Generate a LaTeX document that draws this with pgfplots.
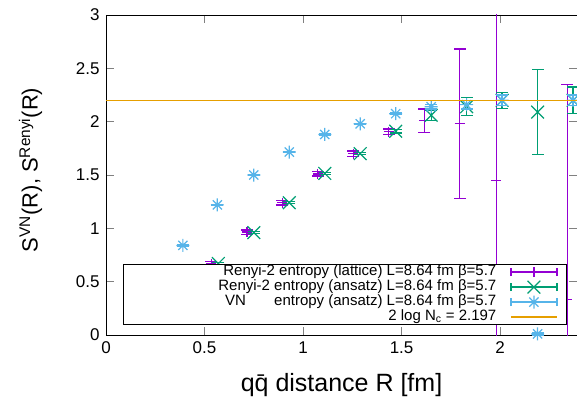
\documentclass[border=0pt]{standalone}
\usepackage{fontspec}
\setmainfont{Liberation Sans}
\usepackage{pgfplots}
\usepackage{pgfplotstable}
\pgfplotsset{compat=1.18}

\definecolor{gpviolet}{HTML}{9400D3}
\definecolor{gpgreen}{HTML}{009E73}
\definecolor{gpblue}{HTML}{56B4E9}
\definecolor{gporange}{HTML}{E69F00}

\pgfdeclareplotmark{gpstar}{%
 \pgfpathmoveto{\pgfqpoint{-\pgfplotmarksize}{0pt}}\pgfpathlineto{\pgfqpoint{\pgfplotmarksize}{0pt}}%
 \pgfpathmoveto{\pgfqpoint{0pt}{-\pgfplotmarksize}}\pgfpathlineto{\pgfqpoint{0pt}{\pgfplotmarksize}}%
 \pgfpathmoveto{\pgfqpoint{-.7071\pgfplotmarksize}{-.7071\pgfplotmarksize}}\pgfpathlineto{\pgfqpoint{.7071\pgfplotmarksize}{.7071\pgfplotmarksize}}%
 \pgfpathmoveto{\pgfqpoint{-.7071\pgfplotmarksize}{.7071\pgfplotmarksize}}\pgfpathlineto{\pgfqpoint{.7071\pgfplotmarksize}{-.7071\pgfplotmarksize}}%
 \pgfusepathqstroke}

\pgfplotsset{
  gpbar/.style={#1, draw=#1, line width=1.3pt, mark=none, unbounded coords=jump, forget plot},
  gpcap/.style={#1, draw=#1, only marks, mark=-, mark size=6pt, line width=1.3pt,
    mark options={#1, draw=#1, solid}, unbounded coords=discard,
    restrict y to domain=0:3, forget plot},
  gppt/.style={#1, draw=#1, only marks, line width=1.2pt, mark options={#1, draw=#1, solid},
    legend image code/.code={
      \path (0pt,0pt) (60pt,0pt);
      \draw[line width=1.3pt, draw=#1] (14pt,0pt)--(60pt,0pt) (14pt,-4pt)--(14pt,4pt) (60pt,-4pt)--(60pt,4pt);
      \draw[##1] plot coordinates {(37pt,0pt)};
    }
  },
  gpline/.style={#1, draw=#1, line width=1.3pt, mark=none,
    legend image code/.code={\path (0pt,0pt) (60pt,0pt); \draw[line width=1.3pt, draw=#1] (14pt,0pt)--(60pt,0pt);}
  }
}

% values: x, y
\pgfplotstableread{
x y
0.355 0.40
0.535 0.67
0.715 0.965
0.895 1.24
1.075 1.51
1.255 1.70
1.435 1.905
1.615 2.01
1.795 1.98
1.98 1.45
2.34 0.33
}\lattice
% error bar ends: lower, upper (nan separates bars)
\pgfplotstableread{
x y
0.355 0.38
0.355 0.42
nan nan
0.535 0.65
0.535 0.69
nan nan
0.715 0.945
0.715 0.985
nan nan
0.895 1.22
0.895 1.26
nan nan
1.075 1.49
1.075 1.53
nan nan
1.255 1.675
1.255 1.725
nan nan
1.435 1.88
1.435 1.93
nan nan
1.615 1.90
1.615 2.12
nan nan
1.795 1.28
1.795 2.68
nan nan
1.98 -0.55
1.98 3.45
nan nan
2.34 -1.69
2.34 2.35
}\latticebars

\pgfplotstableread{
x y
0.39 0.40
0.57 0.67
0.75 0.96
0.93 1.24
1.11 1.515
1.29 1.70
1.47 1.91
1.65 2.06
1.83 2.14
2.01 2.20
2.19 2.09
2.37 2.20
}\ansatzR
\pgfplotstableread{
x y
0.39 0.39
0.39 0.41
nan nan
0.57 0.66
0.57 0.68
nan nan
0.75 0.95
0.75 0.97
nan nan
0.93 1.23
0.93 1.25
nan nan
1.11 1.505
1.11 1.525
nan nan
1.29 1.69
1.29 1.71
nan nan
1.47 1.895
1.47 1.925
nan nan
1.65 2.01
1.65 2.11
nan nan
1.83 2.055
1.83 2.225
nan nan
2.01 2.125
2.01 2.275
nan nan
2.19 1.69
2.19 2.49
nan nan
2.37 2.075
2.37 2.325
}\ansatzRbars

\pgfplotstableread{
x y
0.39 0.84
0.565 1.22
0.75 1.50
0.93 1.715
1.11 1.88
1.29 1.98
1.47 2.075
1.65 2.14
1.83 2.16
2.01 2.20
2.19 0.01
2.37 2.20
}\ansatzVN
\pgfplotstableread{
x y
0.39 0.835
0.39 0.845
nan nan
0.565 1.215
0.565 1.225
nan nan
0.75 1.495
0.75 1.505
nan nan
0.93 1.71
0.93 1.72
nan nan
1.11 1.875
1.11 1.885
nan nan
1.29 1.975
1.29 1.985
nan nan
1.47 2.065
1.47 2.085
nan nan
1.65 2.12
1.65 2.16
nan nan
1.83 2.12
1.83 2.20
nan nan
2.01 2.15
2.01 2.25
nan nan
2.19 0.00
2.19 0.02
nan nan
2.37 2.15
2.37 2.25
}\ansatzVNbars

\begin{document}
\begin{tikzpicture}
\useasboundingbox (-106pt,-70pt) rectangle (471pt,335pt);
\begin{axis}[
  scale only axis,
  width=471pt, height=320pt,
  xmin=0, xmax=2.39, ymin=0, ymax=3,
  xtick={0,0.5,1,1.5,2}, ytick={0,0.5,1,1.5,2,2.5,3},
  tick align=inside, major tick length=8pt,
  axis line style={line width=0.9pt},
  tick style={line width=0.7pt},
  xtick pos=both, ytick pos=both,
  clip mode=individual,
  /pgf/number format/assume math mode=true,
  ticklabel style={font=\fontsize{17}{19}\selectfont},
  yticklabel style={xshift=-3pt},
  xticklabel style={yshift=-3pt},
  xlabel={q\={q} distance R [fm]},
  ylabel={S\textsuperscript{VN}(R), S\textsuperscript{Renyi}(R)},
  xlabel style={font=\fontsize{25}{27}\selectfont, at={(axis description cs:0.5,-0.156)}, anchor=center},
  ylabel style={font=\fontsize{22}{24}\selectfont, at={(axis description cs:-0.16,0.516)}, anchor=center},
  legend cell align=right,
  legend plot pos=right,
  legend style={at={(axis description cs:1,0)}, anchor=south east,
    xshift=-10pt, yshift=10pt, font=\fontsize{15}{15}\selectfont,
    line width=0.8pt, fill=white, inner xsep=9pt, inner ysep=0pt,
    nodes={inner sep=0pt, text height=11pt, text depth=4pt}, row sep=0pt, column sep=0pt},
]
\addplot[gpbar=gpviolet] table[x=x, y=y] {\latticebars};
\addplot[gpcap=gpviolet] table[x=x, y=y] {\latticebars};
\addplot[gppt=gpviolet, mark=+, mark size=5pt] table[x=x, y=y] {\lattice};
\addlegendentry{\hspace*{91pt}Renyi-2 entropy (lattice) L=8.64 fm β=5.7}
\addplot[gpbar=gpgreen] table[x=x, y=y] {\ansatzRbars};
\addplot[gpcap=gpgreen] table[x=x, y=y] {\ansatzRbars};
\addplot[gppt=gpgreen, mark=x, mark size=9pt] table[x=x, y=y] {\ansatzR};
\addlegendentry{Renyi-2 entropy (ansatz) L=8.64 fm β=5.7}
\addplot[gpbar=gpblue] table[x=x, y=y] {\ansatzVNbars};
\addplot[gpcap=gpblue] table[x=x, y=y] {\ansatzVNbars};
\addplot[gppt=gpblue, mark=gpstar, mark size=6.5pt] table[x=x, y=y] {\ansatzVN};
\addlegendentry{VN\hspace{24pt} entropy (ansatz) L=8.64 fm β=5.7}
\addplot[gpline=gporange] coordinates {(0,2.197) (2.39,2.197)};
\addlegendentry{2 log N\textsubscript{c} = 2.197}
\end{axis}
\end{tikzpicture}
\end{document}
